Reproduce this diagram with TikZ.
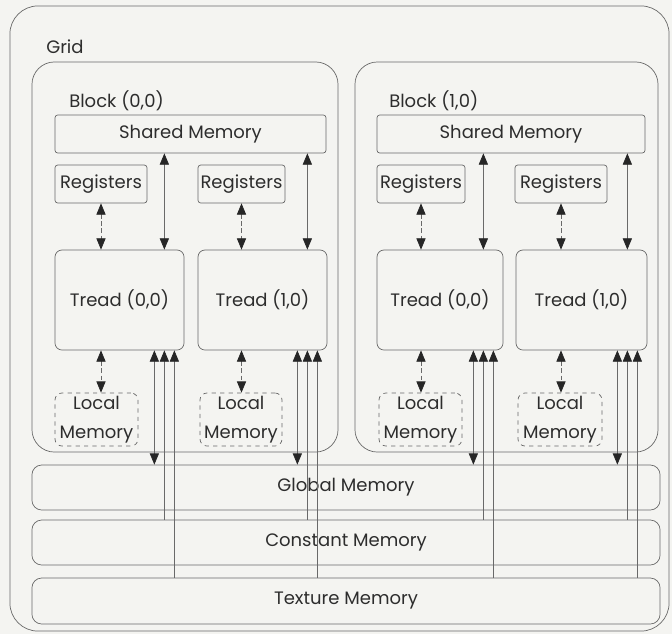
\documentclass[tikz,border=0pt]{standalone}
\usepackage{fontspec}
\setmainfont{Poppins}
\usetikzlibrary{arrows.meta}
\definecolor{ln}{RGB}{105,105,105}
\definecolor{txt}{RGB}{45,45,45}
\definecolor{bg}{RGB}{244,244,241}
\tikzset{
  box/.style={shape=rectangle, draw=ln, line width=0.5pt, rounded corners=2pt,
    inner sep=0pt, text=txt, font=\fontsize{12.8}{14}\selectfont},
  regbox/.style={box, minimum height=0.95cm},
  treadbox/.style={box, rounded corners=5pt, minimum height=2.5cm},
  localbox/.style={box, dashed, rounded corners=5pt, minimum height=1.325cm,
    align=center, font=\fontsize{12.8}{20.5}\selectfont},
  blockbox/.style={box, rounded corners=16pt, minimum height=9.75cm},
  globbox/.style={box, rounded corners=7pt, minimum width=15.7cm},
  lbl/.style={anchor=west, inner sep=0pt, text=txt, font=\fontsize{12.8}{14}\selectfont},
  memhead/.tip={Triangle[length=8pt,width=6.5pt,color=black!85]},
  dbl/.style={draw=ln, line width=0.5pt, memhead-memhead},
  dbldash/.style={dbl, dash pattern=on 3pt off 2pt},
  bck/.style={draw=ln, line width=0.5pt, memhead-}
}
\begin{document}
\begin{tikzpicture}[x=0.025cm, y=-0.025cm]
  \fill[bg] (0,0) rectangle (672,634);
  \useasboundingbox (0,0) rectangle (672,634);

  \node[box, rounded corners=20pt, minimum width=16.475cm, minimum height=15.625cm] (grid) at (339.5,318.5) {};
  \node[lbl] (gridlbl) at (46,47) {Grid};

  % blocks
  \node[blockbox, minimum width=7.65cm] (blk0) at (185,257) {};
  \node[blockbox, minimum width=7.575cm] (blk1) at (506.5,257) {};
  \node[lbl] (blk0lbl) at (69,101) {Block (0,0)};
  \node[lbl] (blk1lbl) at (389,101) {Block (1,0)};

  \node[regbox, minimum width=6.775cm] (sm0) at (190.5,134) {Shared Memory};
  \node[regbox, minimum width=6.7cm] (sm1) at (511,134) {Shared Memory};

  \node[regbox, minimum width=2.3cm] (reg00) at (101,184) {Registers};
  \node[regbox, minimum width=2.175cm] (reg01) at (241.5,184) {Registers};
  \node[regbox, minimum width=2.2cm] (reg10) at (421,184) {Registers};
  \node[regbox, minimum width=2.3cm] (reg11) at (561,184) {Registers};

  \node[treadbox, minimum width=3.225cm] (tr00) at (119.5,300) {Tread (0,0)};
  \node[treadbox, minimum width=3.225cm] (tr01) at (262.5,300) {Tread (1,0)};
  \node[treadbox, minimum width=3.15cm] (tr10) at (440,300) {Tread (0,0)};
  \node[treadbox, minimum width=3.275cm] (tr11) at (581.5,300) {Tread (1,0)};

  \node[localbox, minimum width=2.075cm] (loc00) at (96.5,419.5) {Local\\Memory};
  \node[localbox, minimum width=2.05cm] (loc01) at (241,419.5) {Local\\Memory};
  \node[localbox, minimum width=2.075cm] (loc10) at (420.5,419.5) {Local\\Memory};
  \node[localbox, minimum width=2.1cm] (loc11) at (560,419.5) {Local\\Memory};

  % device memories
  \node[globbox, minimum height=1.125cm] (glob) at (346,487.5) {Global Memory};
  \node[globbox, minimum height=1.125cm] (const) at (346,542.5) {Constant Memory};
  \node[globbox, minimum height=1.15cm] (tex) at (346,601) {Texture Memory};

  % tread ports
  \foreach \t in {00,01,10,11}{
    \coordinate (g\t) at ([xshift=-0.75cm]tr\t.south east);
    \coordinate (c\t) at ([xshift=-0.5cm]tr\t.south east);
    \coordinate (x\t) at ([xshift=-0.25cm]tr\t.south east);
  }

  \foreach \t/\b in {00/0,01/0,10/1,11/1}{
    \draw[dbldash] (reg\t.south) -- (tr\t.north -| reg\t.south);
    \draw[dbldash] (tr\t.south -| reg\t.south) -- (loc\t.north -| reg\t.south);
    \draw[dbl] (c\t |- sm\b.south) -- (c\t |- tr\t.north);
    \draw[bck] (x\t) -- (x\t |- tex.north);
    \draw[bck] (c\t) -- (c\t |- const.north);
    \draw[dbl] (g\t) -- (g\t |- glob.north);
  }
\end{tikzpicture}
\end{document}
